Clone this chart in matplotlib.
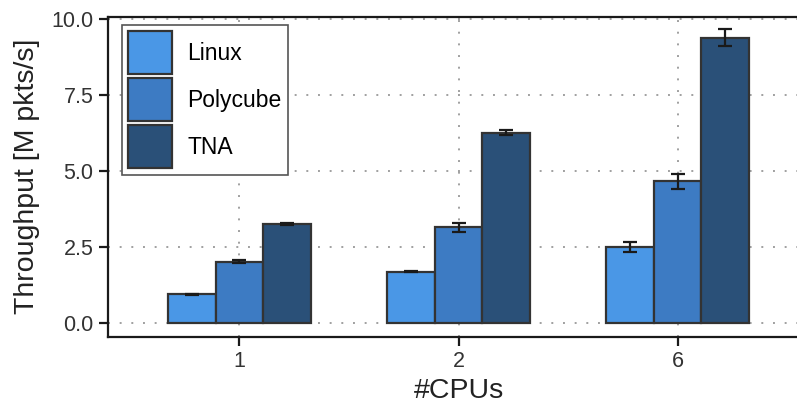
import matplotlib
matplotlib.use("Agg")
import numpy as np
import matplotlib.pyplot as plt
from matplotlib.patches import Patch

plt.rcParams['font.family'] = ['Liberation Sans', 'DejaVu Sans']

# data
cpus = ['1', '2', '6']
systems = ['Linux', 'Polycube', 'TNA']
linux = [0.95, 1.70, 2.51]
polycube = [2.02, 3.16, 4.67]
tna = [3.27, 6.27, 9.40]
linux_err = [0.03, 0.02, 0.15]
polycube_err = [0.05, 0.15, 0.25]
tna_err = [0.03, 0.08, 0.28]
colors = ['#4a97e6', '#3d7bc3', '#2a5078']

values = [linux, polycube, tna]
errors = [linux_err, polycube_err, tna_err]

fig = plt.figure(figsize=(7.97, 4.04), dpi=100)
ax = fig.add_axes([108 / 797, 1 - 336.7 / 404, (809 - 108) / 797, (336.7 - 16.7) / 404])

x = np.arange(len(cpus))
w = 0.218
for i, (vals, errs) in enumerate(zip(values, errors)):
    ax.bar(x + (i - 1) * w, vals, width=w, color=colors[i], edgecolor='#333333',
           linewidth=1.6, zorder=2)
    ax.errorbar(x + (i - 1) * w, vals, yerr=errs, fmt='none', ecolor='#1a1a1a',
                elinewidth=1.6, capsize=5, capthick=1.6, zorder=3)

ax.set_xlim(-0.6, 2.6)
ax.set_ylim(-0.44, 10.09)
ax.set_xticks(x)
ax.set_xticklabels(cpus)
ax.set_yticks([0, 2.5, 5, 7.5, 10])
ax.set_yticklabels(['0.0', '2.5', '5.0', '7.5', '10.0'])
ax.tick_params(labelsize=15.5, length=6.5, width=1.6, color='#1a1a1a', labelcolor='#333333', pad=4)

ax.grid(True, color='#a0a0a0', linestyle=(0, (1, 5)), linewidth=1.4)
ax.set_axisbelow(True)

for s in ['left', 'bottom', 'top']:
    ax.spines[s].set_linewidth(1.6)
    ax.spines[s].set_color('#1a1a1a')
ax.spines['right'].set_visible(False)

ax.set_xlabel('#CPUs', fontsize=20.5, color='#222222', labelpad=4)
ax.set_ylabel('Throughput [M pkts/s]', fontsize=20.5, color='#222222', labelpad=8)

handles = [Patch(facecolor=c, edgecolor='#333333', linewidth=1.6) for c in colors]
leg = ax.legend(handles, systems, loc='upper left',
                bbox_to_anchor=(122 / 797, 1 - 25 / 404), bbox_transform=fig.transFigure,
                borderaxespad=0, fontsize=16.5, handlelength=1.88, handleheight=2.5,
                labelspacing=0.18, handletextpad=0.7, borderpad=0.28, fancybox=False,
                framealpha=1)
leg.get_frame().set_edgecolor('#555555')
leg.get_frame().set_linewidth(1.2)

fig.savefig('out.png', dpi=100)
